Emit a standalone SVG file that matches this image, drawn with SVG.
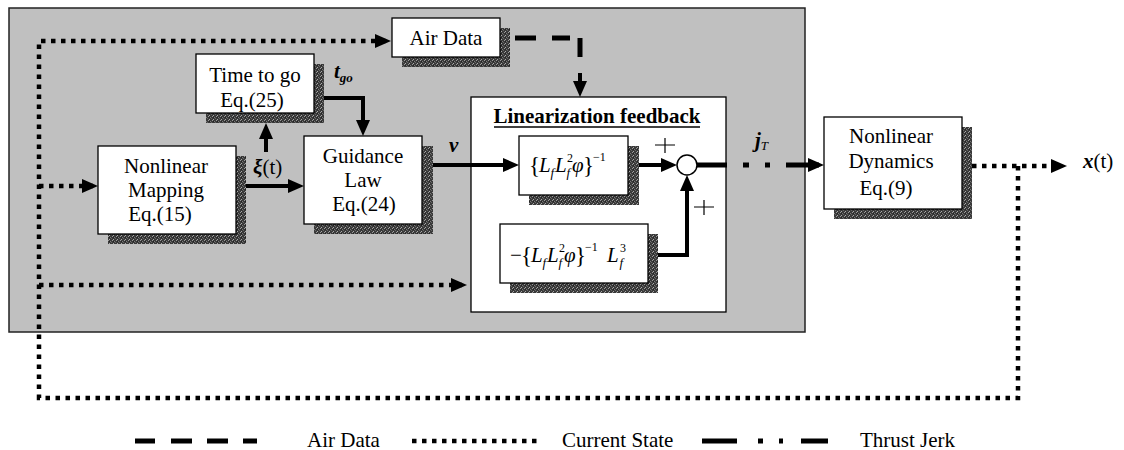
<svg xmlns="http://www.w3.org/2000/svg" width="1124" height="450" viewBox="0 0 1124 450" font-family="'Liberation Serif', 'Times New Roman', serif">
<style>
text{font-family:"Liberation Serif","Times New Roman",serif;font-size:21px;fill:#000}
.c{text-anchor:middle}
.bi{font-weight:bold;font-style:italic}
.it{font-style:italic}
.up{font-style:normal}
.sub{font-size:13px}
.sup{font-size:12px}
.br{font-size:23px}
.box{fill:#fff;stroke:#000;stroke-width:1.3}
.sh{fill:url(#stip)}
.solid{fill:none;stroke:#000;stroke-width:4}
.dot{fill:none;stroke:#000;stroke-width:4.5;stroke-dasharray:4.5 5.5}
.dash{fill:none;stroke:#000;stroke-width:5}
.thin{fill:none;stroke:#000;stroke-width:1.2}
</style>
<defs>
<pattern id="stip" width="4" height="4" patternUnits="userSpaceOnUse">
<rect width="4" height="4" fill="#3a3a3a"/>
<rect x="0" y="0" width="1" height="1" fill="#9a9a9a"/>
<rect x="2" y="1" width="1" height="1" fill="#7a7a7a"/>
<rect x="1" y="3" width="1" height="1" fill="#aaa"/>
<rect x="3" y="2" width="1" height="1" fill="#666"/>
<rect x="1" y="1" width="1" height="1" fill="#222"/>
</pattern>
<marker id="ah" markerUnits="userSpaceOnUse" markerWidth="16" markerHeight="14" viewBox="0 0 16 14" refX="11" refY="7" orient="auto">
<path d="M0,0 L16,7 L0,14 z" fill="#000"/>
</marker>
</defs>

<rect id="panel" x="9" y="8" width="796" height="324" fill="#c0c0c0" stroke="#222" stroke-width="1.5"/>

<g id="air-data">
<rect class="sh" x="402" y="28" width="108" height="39"/>
<rect class="box" x="392" y="18" width="108" height="39"/>
<text class="c" x="446" y="45">Air Data</text>
</g>

<g id="time-to-go">
<rect class="sh" x="206" y="64" width="118" height="59"/>
<rect class="box" x="196" y="54" width="118" height="59"/>
<text class="c" x="255" y="82">Time to go</text>
<text class="c" x="252" y="107">Eq.(25)</text>
</g>

<g id="nonlinear-mapping">
<rect class="sh" x="108" y="156" width="138" height="88"/>
<rect class="box" x="98" y="146" width="138" height="88"/>
<text class="c" x="166" y="173">Nonlinear</text>
<text class="c" x="166" y="197">Mapping</text>
<text class="c" x="160" y="221">Eq.(15)</text>
</g>

<g id="guidance-law">
<rect class="sh" x="314" y="146" width="119" height="88"/>
<rect class="box" x="304" y="136" width="118" height="88"/>
<text class="c" x="363" y="163">Guidance</text>
<text class="c" x="363" y="187">Law</text>
<text class="c" x="364" y="211">Eq.(24)</text>
</g>

<g id="linearization-feedback">
<rect class="box" x="471" y="97" width="255" height="215"/>
<text class="c" x="597" y="123" font-weight="bold">Linearization feedback</text>
<line x1="494" y1="127" x2="700" y2="127" stroke="#000" stroke-width="1.5"/>
</g>

<g id="inverse-block">
<rect class="sh" x="529" y="146" width="110" height="59"/>
<rect class="box" x="519" y="136" width="109" height="59"/>
<text class="it" y="172"><tspan class="br up" x="529" y="173">{</tspan><tspan x="539" y="172">L</tspan><tspan class="sub" x="550.5" y="177">f</tspan><tspan x="555" y="172">L</tspan><tspan class="sup up" x="567" y="162">2</tspan><tspan class="sub" x="566.5" y="177">f</tspan><tspan x="572" y="172">φ</tspan><tspan class="br up" x="583" y="173">}</tspan><tspan class="sup up" x="593" y="161">−1</tspan></text>
</g>

<g id="feedforward-block">
<rect class="sh" x="510" y="234" width="148" height="59"/>
<rect class="box" x="500" y="224" width="148" height="59"/>
<text class="it" y="262"><tspan class="up" x="510" y="262">−</tspan><tspan class="br up" x="521" y="263">{</tspan><tspan x="531" y="262">L</tspan><tspan class="sub" x="542.5" y="267">f</tspan><tspan x="547" y="262">L</tspan><tspan class="sup up" x="559" y="252">2</tspan><tspan class="sub" x="558.5" y="267">f</tspan><tspan x="564" y="262">φ</tspan><tspan class="br up" x="575" y="263">}</tspan><tspan class="sup up" x="585" y="251">−1</tspan><tspan x="607" y="262">L</tspan><tspan class="sup up" x="620" y="252">3</tspan><tspan class="sub" x="619.5" y="267">f</tspan></text>
</g>

<g id="sum">
<circle cx="687" cy="165" r="10" fill="#fff" stroke="#000" stroke-width="1.5"/>
<path class="thin" d="M655,145 H675 M665,138 V153"/>
<path class="thin" d="M694,207 H714 M704,200 V215"/>
</g>

<g id="nonlinear-dynamics">
<rect class="sh" x="834" y="127" width="138" height="92"/>
<rect class="box" x="824" y="117" width="138" height="92"/>
<text class="c" x="891" y="143">Nonlinear</text>
<text class="c" x="891" y="168">Dynamics</text>
<text class="c" x="886" y="195">Eq.(9)</text>
</g>

<g id="connectors">
<path class="dot" d="M1018,166 V398 H39 V41 H386" marker-end="url(#ah)"/>
<path class="dot" d="M39,186 H93" marker-end="url(#ah)"/>
<path class="dot" d="M39,285 H462" marker-end="url(#ah)"/>
<path class="solid" d="M246,186 H299" marker-end="url(#ah)"/>
<path class="solid" d="M266,152 V128" marker-end="url(#ah)"/>
<path class="solid" d="M324,98 H363 V131" marker-end="url(#ah)"/>
<path class="dash" d="M515,38 H536 M552,38 H570 M580,38 V57"/>
<path class="solid" d="M580,73 V92" marker-end="url(#ah)"/>
<path class="solid" d="M433,165 H514" marker-end="url(#ah)"/>
<path class="solid" d="M639,165 H672" marker-end="url(#ah)"/>
<path class="solid" d="M658,255 H687 V180" marker-end="url(#ah)"/>
<path class="dash" d="M697,165 H727"/>
<path class="dash" d="M743,165 H749 M765,165 H770"/>
<path class="dash" d="M786,165 H819" marker-end="url(#ah)"/>
<path class="dot" d="M972,166 H1062" marker-end="url(#ah)"/>
</g>

<g id="labels">
<text class="bi" x="334" y="78">t<tspan class="sub" dy="4">go</tspan></text>
<text x="253" y="174"><tspan class="bi">ξ</tspan>(t)</text>
<text class="bi" x="449" y="152">v</text>
<text x="755" y="147"><tspan class="bi">j</tspan><tspan class="it sub" dy="3">T</tspan></text>
<text x="1083" y="168"><tspan class="bi">x</tspan>(t)</text>
</g>

<g id="legend">
<path class="dash" d="M135,441 H155 M171,441 H192 M207,441 H228 M243,441 H257"/>
<text x="307" y="447">Air Data</text>
<path class="dot" d="M412,441 H540"/>
<text x="562" y="447">Current State</text>
<path class="dash" d="M702,441 H737 M758,441 H763 M779,441 H783 M801,441 H828"/>
<text x="860" y="447">Thrust Jerk</text>
</g>
</svg>
